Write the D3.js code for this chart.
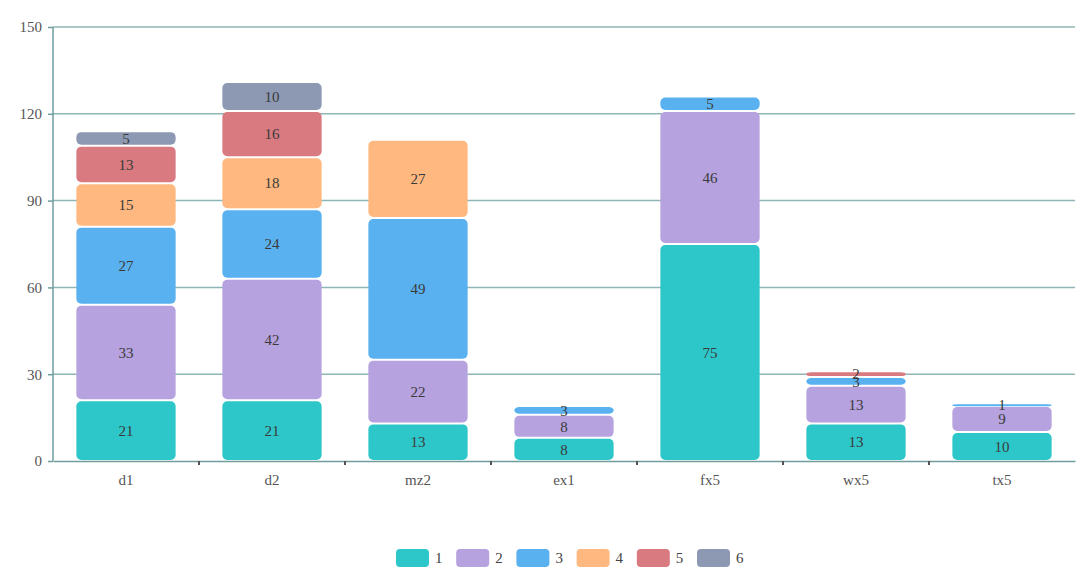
<!DOCTYPE html>
<html>
<head>
<meta charset="utf-8">
<script src="https://cdn.jsdelivr.net/npm/d3@7/dist/d3.min.js"></script>
<style>
  body { margin: 0; background: #fff; }
  svg text { font-family: "Liberation Serif", "DejaVu Serif", serif; }
</style>
</head>
<body>
<svg id="chart" width="1084" height="581"></svg>
<script>

// categories and stacked series
var categories = ["d1", "d2", "mz2", "ex1", "fx5", "wx5", "tx5"];
var seriesNames = ["1", "2", "3", "4", "5", "6"];
var s1 = [21, 21, 13, 8, 75, 13, 10];
var s2 = [33, 42, 22, 8, 46, 13, 9];
var s3 = [27, 24, 49, 3, 5, 3, 1];
var s4 = [15, 18, 27, 0, 0, 0, 0];
var s5 = [13, 16, 0, 0, 0, 2, 0];
var s6 = [5, 10, 0, 0, 0, 0, 0];
var yTicks = [0, 30, 60, 90, 120, 150];
var colors = ["#2ec7c9", "#b6a2de", "#5ab1ef", "#ffb980", "#d87a80", "#8d98b3"];

var allSeries = [s1, s2, s3, s4, s5, s6];

var rows = categories.map(function(c, i) {
    var r = { cat: c };
    seriesNames.forEach(function(n, k) { r[n] = allSeries[k][i]; });
    return r;
});

var svg = d3.select("#chart");
var padL = 53, padR = 1075, padT = 27, padB = 461;

var x = d3.scaleBand().domain(categories).range([padL, padR]).paddingInner(0.32).paddingOuter(0.16);
var xTickScale = d3.scaleBand().domain(categories).range([padL, padR]);
var y = d3.scaleLinear().domain([0, 150]).range([padB, padT]);

var axisColor = "#6f9c9c";

// grid lines
svg.append("g")
    .selectAll("line")
    .data(yTicks.filter(function(t) { return t > 0; }))
    .enter().append("line")
    .attr("x1", padL).attr("x2", padR)
    .attr("y1", function(d) { return y(d); })
    .attr("y2", function(d) { return y(d); })
    .attr("stroke", "#8fb6b6")
    .attr("stroke-width", 1.5);

var stack = d3.stack().keys(seriesNames);
var layers = stack(rows);

// bars
layers.forEach(function(layer, k) {
    svg.append("g")
        .selectAll("rect")
        .data(layer.filter(function(d) { return d[1] - d[0] > 0; }))
        .enter().append("rect")
        .attr("x", function(d) { return x(d.data.cat); })
        .attr("width", x.bandwidth())
        .attr("y", function(d) { return y(d[1]) + 1; })
        .attr("height", function(d) { return Math.max(2, y(d[0]) - y(d[1]) - 2); })
        .attr("rx", 5).attr("ry", 5)
        .attr("fill", colors[k]);
});

// labels
layers.forEach(function(layer, k) {
    svg.append("g")
        .selectAll("text")
        .data(layer.filter(function(d) { return d[1] - d[0] > 0; }))
        .enter().append("text")
        .attr("x", function(d) { return x(d.data.cat) + x.bandwidth() / 2; })
        .attr("y", function(d) { return (y(d[0]) + y(d[1])) / 2; })
        .attr("dy", "0.35em")
        .attr("text-anchor", "middle")
        .attr("font-size", 15)
        .attr("fill", "#3a3a3a")
        .text(function(d) { return d[1] - d[0]; });
});

// y axis
var yAxis = svg.append("g")
    .attr("transform", "translate(" + padL + ",0)")
    .call(d3.axisLeft(y).tickValues(yTicks).tickSize(5).tickPadding(6));
yAxis.selectAll("path, line").attr("stroke", axisColor).attr("stroke-width", 1.5);
yAxis.select(".domain").attr("d", "M0," + padT + "V" + padB);
yAxis.selectAll("text").attr("font-size", 15).attr("fill", "#555")
    .style("font-family", "Liberation Serif, serif");

// x axis
var xAxis = svg.append("g")
    .attr("transform", "translate(0," + padB + ")")
    .call(d3.axisBottom(xTickScale).tickSize(0).tickPadding(13));
xAxis.select(".domain").attr("stroke", axisColor).attr("stroke-width", 1.5);
xAxis.selectAll("text").attr("font-size", 15).attr("fill", "#555")
    .style("font-family", "Liberation Serif, serif");
// boundary ticks
svg.append("g")
    .selectAll("line")
    .data(categories.slice(1))
    .enter().append("line")
    .attr("x1", function(d) { return xTickScale(d); })
    .attr("x2", function(d) { return xTickScale(d); })
    .attr("y1", padB).attr("y2", padB + 4)
    .attr("stroke", "#555").attr("stroke-width", 2);

// legend
var legend = svg.append("g").attr("transform", "translate(396,549)");
var item = legend.selectAll("g")
    .data(seriesNames)
    .enter().append("g")
    .attr("transform", function(d, i) { return "translate(" + (i * 60.2) + ",0)"; });
item.append("rect")
    .attr("width", 33).attr("height", 18)
    .attr("rx", 4).attr("ry", 4)
    .attr("fill", function(d, i) { return colors[i]; });
item.append("text")
    .attr("x", 39).attr("y", 9).attr("dy", "0.35em")
    .attr("font-size", 15).attr("fill", "#444")
    .text(function(d) { return d; });

</script>
</body>
</html>
